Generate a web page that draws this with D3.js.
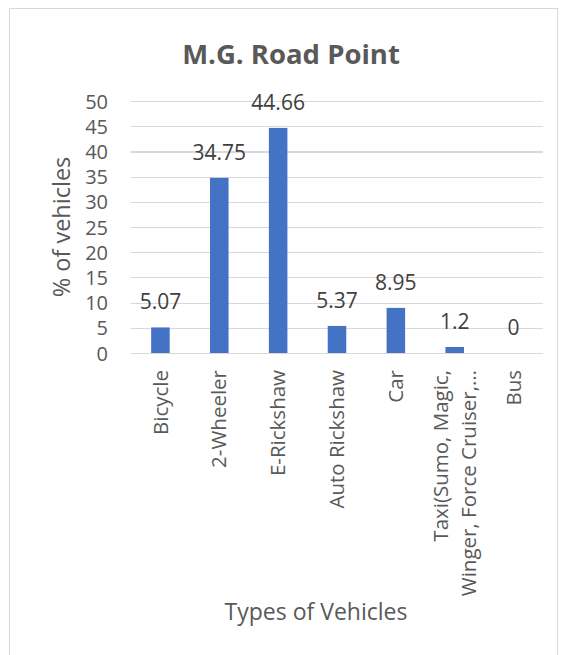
<!DOCTYPE html>
<html>
<head>
<meta charset="utf-8">
<script src="https://cdn.jsdelivr.net/npm/d3@7"></script>
<style>
  html, body { margin: 0; padding: 0; background: #fff; }
  svg { display: block; font-family: "Open Sans", sans-serif; }
</style>
</head>
<body>
<svg id="chart" width="564" height="655"></svg>
<script>
// Share of vehicle types counted at the M.G. Road point
const categories = [
  "Bicycle",
  "2-Wheeler",
  "E-Rickshaw",
  "Auto Rickshaw",
  "Car",
  "Taxi(Sumo, Magic,\nWinger, Force Cruiser,…",
  "Bus"
];
const percentages = [5.07, 34.75, 44.66, 5.37, 8.95, 1.2, 0];
const yTicks = [0, 5, 10, 15, 20, 25, 30, 35, 40, 45, 50];

const chartTitle = "M.G. Road Point";
const xTitle = "Types of Vehicles";
const yTitle = "% of vehicles";

const svg = d3.select("#chart");
const textColor = "#595959";
const gridColor = "#d9d9d9";
const barColor = "#4472c4";

// outer chart frame
svg.append("rect")
  .attr("x", 9.5).attr("y", 8.5)
  .attr("width", 548).attr("height", 660)
  .attr("fill", "none")
  .attr("stroke", gridColor)
  .attr("stroke-width", 1);

const plot = { left: 131, right: 543, top: 101, bottom: 353 };

const x = d3.scaleBand()
  .domain(categories)
  .range([plot.left, plot.right])
  .paddingInner(0.685)
  .paddingOuter(0.3425);

const y = d3.scaleLinear()
  .domain([0, 50])
  .range([plot.bottom, plot.top]);

// horizontal gridlines
const grid = svg.append("g")
  .attr("transform", `translate(${plot.left},0)`)
  .call(d3.axisLeft(y).tickValues(yTicks).tickSize(-(plot.right - plot.left)).tickFormat(""));
grid.select(".domain").remove();
grid.selectAll(".tick line")
  .attr("stroke", gridColor)
  .attr("stroke-width", 1.2)
  .attr("shape-rendering", "crispEdges");

// y tick labels
const yAxis = svg.append("g")
  .attr("transform", `translate(108,0)`)
  .call(d3.axisLeft(y).tickValues(yTicks).tickSize(0).tickPadding(0).tickFormat(d3.format("d")));
yAxis.select(".domain").remove();
yAxis.selectAll(".tick text")
  .attr("fill", textColor)
  .attr("font-size", 20)
  .attr("font-family", "Open Sans, sans-serif")
  .attr("dy", "0.35em");

// bars
svg.append("g")
  .selectAll("rect")
  .data(categories)
  .join("rect")
  .attr("x", d => x(d))
  .attr("width", x.bandwidth())
  .attr("y", (d, i) => y(percentages[i]))
  .attr("height", (d, i) => y(0) - y(percentages[i]))
  .attr("fill", barColor);

// value labels above bars
svg.append("g")
  .selectAll("text")
  .data(categories)
  .join("text")
  .attr("x", d => x(d) + x.bandwidth() / 2)
  .attr("y", (d, i) => y(percentages[i]) - 18)
  .attr("text-anchor", "middle")
  .attr("fill", "#404040")
  .attr("font-size", 21)
  .text((d, i) => String(percentages[i]));

// category labels, rotated and wrapped on explicit breaks
const xAxis = svg.append("g")
  .attr("transform", `translate(0,${plot.bottom})`)
  .call(d3.axisBottom(x).tickSize(0).tickFormat(""));
xAxis.select(".domain").remove();

const lineGap = 28;
svg.append("g")
  .selectAll("text")
  .data(categories)
  .join("text")
  .attr("transform", d => `translate(${x(d) + x.bandwidth() / 2},${plot.bottom + 17}) rotate(-90)`)
  .attr("text-anchor", "end")
  .attr("fill", textColor)
  .attr("font-size", 20.5)
  .each(function (d) {
    const lines = d.split("\n");
    const t = d3.select(this);
    const offset = -(lines.length - 1) * lineGap / 2;
    lines.forEach((ln, k) => {
      t.append("tspan")
        .attr("x", 0)
        .attr("y", offset + k * lineGap)
        .attr("dy", "0.35em")
        .text(ln);
    });
  });

// chart title
svg.append("text")
  .attr("x", 291).attr("y", 64)
  .attr("text-anchor", "middle")
  .attr("fill", textColor)
  .attr("font-size", 27.5)
  .attr("font-weight", "bold")
  .text(chartTitle);

// axis titles
svg.append("text")
  .attr("transform", "translate(70,227) rotate(-90)")
  .attr("text-anchor", "middle")
  .attr("fill", textColor)
  .attr("font-size", 23.5)
  .text(yTitle);

svg.append("text")
  .attr("x", 316).attr("y", 620)
  .attr("text-anchor", "middle")
  .attr("fill", textColor)
  .attr("font-size", 23)
  .text(xTitle);
</script>
</body>
</html>
